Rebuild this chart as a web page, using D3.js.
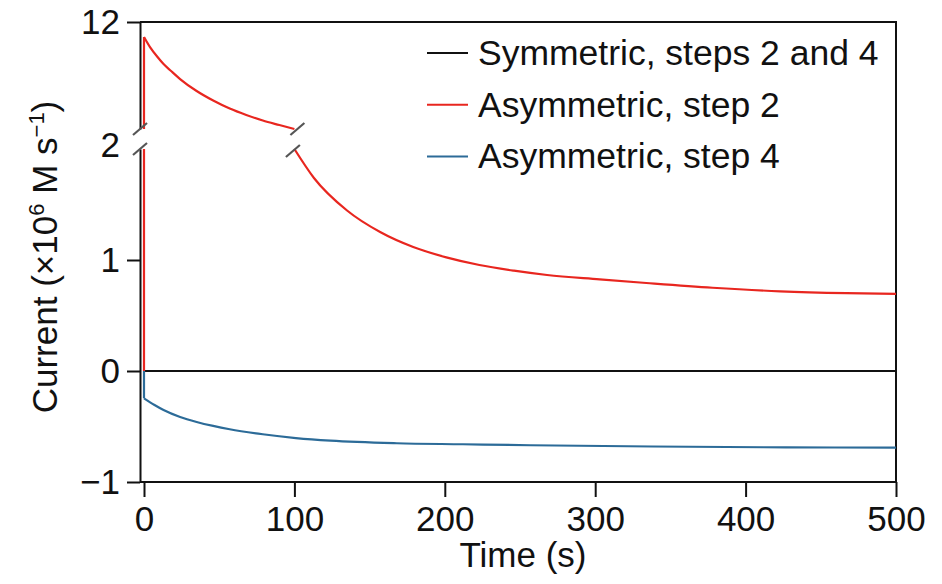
<!DOCTYPE html>
<html>
<head>
<meta charset="utf-8">
<script src="https://cdn.jsdelivr.net/npm/d3@7"></script>
<style>
  html, body { margin: 0; padding: 0; background: #fff; }
  svg { display: block; font-family: "Liberation Sans", Arial, Helvetica, sans-serif; }
  .axis text { font-size: 35px; fill: #111; }
  .axis line, .axis path { stroke: #111; stroke-width: 2; }
</style>
</head>
<body>
<svg id="chart"></svg>
<script>
"use strict";

// values, current in 10^6 M s^-1, time in s
const xTicks = [0, 100, 200, 300, 400, 500];
const yTicksLower = [-1, 0, 1];
const yTicksUpper = [12];
const BREAK_VALUE = 2;

const symmetricSeries = [[0, 0], [500, 0]];
const redStart = 10.6;
const redDecay = [
    [0, 10.6], [4, 9.66], [9, 8.73], [13, 8.07], [18, 7.42], [24, 6.67], [35, 5.55],
    [46, 4.66], [57, 3.91], [68, 3.31], [79, 2.79], [90, 2.37], [100, 2.0],
    [113, 1.739], [135, 1.446], [157, 1.252], [179, 1.117], [201, 1.024], [223, 0.955],
    [246, 0.904], [268, 0.865], [303, 0.826], [334, 0.793], [378, 0.75], [423, 0.718],
    [467, 0.701], [500, 0.694]
];
const blueStart = -0.246;
const blueDecay = [
    [0, -0.246], [7, -0.306], [13, -0.351], [24, -0.414], [35, -0.459], [46, -0.495],
    [57, -0.525], [79, -0.57], [101, -0.604], [124, -0.628], [168, -0.651], [212, -0.66],
    [257, -0.669], [338, -0.68], [427, -0.688], [500, -0.69]
];

const legendLabels = ["Symmetric, steps 2 and 4", "Asymmetric, step 2", "Asymmetric, step 4"];
const legendColors = ["#111111", "#e8261f", "#2c6b98"];

const width = 942;
const height = 584;
const FONT_SIZE = 35;

const svg = d3.select("#chart")
    .attr("width", width)
    .attr("height", height);

const x = d3.scaleLinear().domain([0, 500]).range([144, 896]);
// broken y axis: two linear pieces
const yLower = d3.scaleLinear().domain([-1, BREAK_VALUE]).range([482, 149]);
const yUpper = d3.scaleLinear().domain([BREAK_VALUE, 12]).range([129, 22]);
const left = 140;

// split a polyline where it crosses the break value
function splitAtBreak(pts) {
    const segs = [];
    let cur = null;
    pts.forEach((p, i) => {
        const part = p[1] > BREAK_VALUE ? "upper" : "lower";
        if (!cur) {
            cur = {part, pts: [p]};
            segs.push(cur);
            return;
        }
        if (part !== cur.part) {
            const q = pts[i - 1];
            const f = (BREAK_VALUE - q[1]) / (p[1] - q[1]);
            const cross = [q[0] + f * (p[0] - q[0]), BREAK_VALUE];
            cur.pts.push(cross);
            cur = {part, pts: [cross]};
            if (cross[0] !== p[0] || cross[1] !== p[1]) cur.pts.push(p);
            segs.push(cur);
        } else {
            cur.pts.push(p);
        }
    });
    return segs;
}

function drawSeries(pts, color, curve) {
    splitAtBreak(pts).forEach(seg => {
        const yScale = seg.part === "upper" ? yUpper : yLower;
        svg.append("path")
            .datum(seg.pts)
            .attr("fill", "none")
            .attr("stroke", color)
            .attr("stroke-width", 2.2)
            .attr("d", d3.line().x(d => x(d[0])).y(d => yScale(d[1])).curve(curve));
    });
}

// frame (top, right, bottom)
svg.append("path")
    .attr("fill", "none")
    .attr("stroke", "#111")
    .attr("stroke-width", 2)
    .attr("d", `M${left},${yUpper(12)}H${x(500)}V${yLower(-1)}H${left}`);

// data
drawSeries(symmetricSeries, legendColors[0], d3.curveLinear);
drawSeries([[0, 0], [0, redStart]], legendColors[1], d3.curveLinear);
drawSeries(redDecay, legendColors[1], d3.curveMonotoneX);
drawSeries([[0, 0], [0, blueStart]], legendColors[2], d3.curveLinear);
drawSeries(blueDecay, legendColors[2], d3.curveMonotoneX);

const fmt = d3.format("d");

// x axis
svg.append("g")
    .attr("class", "axis")
    .attr("transform", `translate(0,${yLower(-1)})`)
    .call(d3.axisBottom(x).tickValues(xTicks).tickFormat(fmt).tickSize(15).tickPadding(9).tickSizeOuter(0))
    .call(g => g.select(".domain").remove());

// y axis, lower piece
svg.append("g")
    .attr("class", "axis")
    .attr("transform", `translate(${left},0)`)
    .call(d3.axisLeft(yLower).tickValues(yTicksLower).tickFormat(fmt).tickSize(13).tickPadding(7).tickSizeOuter(0));

// y axis, upper piece
svg.append("g")
    .attr("class", "axis")
    .attr("transform", `translate(${left},0)`)
    .call(d3.axisLeft(yUpper).tickValues(yTicksUpper).tickFormat(fmt).tickSize(13).tickPadding(7).tickSizeOuter(0));

// label for the break value, sits between the two marks
svg.append("text")
    .attr("x", left - 20)
    .attr("y", yLower(BREAK_VALUE) - 4)
    .attr("dy", "0.35em")
    .attr("text-anchor", "end")
    .attr("font-size", FONT_SIZE)
    .attr("fill", "#111")
    .text(BREAK_VALUE);

// break marks on the axis and on the red curve
const breakMarks = [
    [left, yUpper(BREAK_VALUE)], [left, yLower(BREAK_VALUE)],
    [x(102), yUpper(BREAK_VALUE)], [x(99), yLower(BREAK_VALUE) + 2]
];
svg.append("g")
    .selectAll("line")
    .data(breakMarks)
    .join("line")
    .attr("x1", d => d[0] - 7)
    .attr("y1", d => d[1] + 6)
    .attr("x2", d => d[0] + 7)
    .attr("y2", d => d[1] - 6)
    .attr("stroke", "#555")
    .attr("stroke-width", 2.2);

// axis titles
svg.append("text")
    .attr("x", 523)
    .attr("y", 567)
    .attr("text-anchor", "middle")
    .attr("font-size", FONT_SIZE)
    .attr("fill", "#111")
    .text("Time (s)");

const yTitle = svg.append("text")
    .attr("transform", "translate(57,257) rotate(-90)")
    .attr("text-anchor", "middle")
    .attr("font-size", FONT_SIZE)
    .attr("fill", "#111");
yTitle.append("tspan").text("Current (×10");
yTitle.append("tspan").attr("font-size", 22).attr("dy", -13).text("6");
yTitle.append("tspan").attr("dy", 13).text(" M s");
yTitle.append("tspan").attr("font-size", 22).attr("dy", -13).text("−1");
yTitle.append("tspan").attr("dy", 13).text(")");

// legend
const legend = svg.append("g")
    .selectAll("g")
    .data(legendLabels)
    .join("g")
    .attr("transform", (d, i) => `translate(427,${53 + i * 51.7})`);
legend.append("line")
    .attr("x1", 0)
    .attr("x2", 41)
    .attr("stroke", (d, i) => legendColors[i])
    .attr("stroke-width", 2);
legend.append("text")
    .attr("x", 51)
    .attr("y", 12)
    .attr("font-size", 35.5)
    .attr("fill", "#111")
    .text(d => d);
</script>
</body>
</html>
